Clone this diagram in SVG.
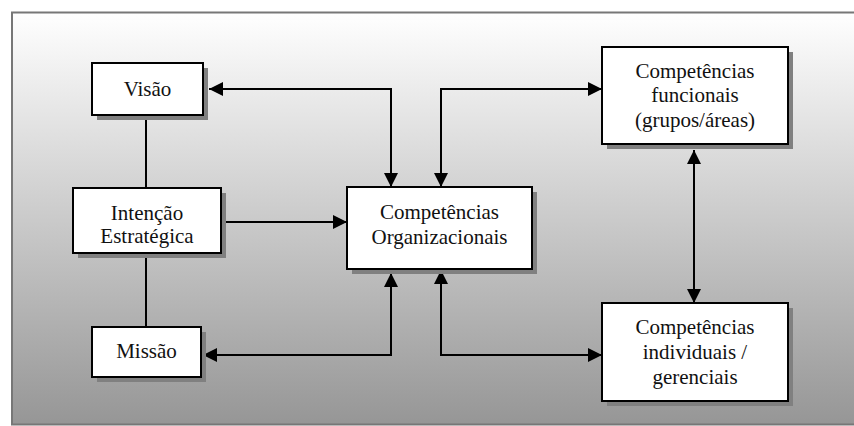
<svg xmlns="http://www.w3.org/2000/svg" width="854" height="426" viewBox="0 0 854 426">
<defs>
<linearGradient id="bg" x1="0" y1="0" x2="0" y2="1">
<stop offset="0" stop-color="#ffffff"/>
<stop offset="1" stop-color="#969696"/>
</linearGradient>
<marker id="ah" viewBox="0 0 14 14" refX="14" refY="7" markerWidth="14" markerHeight="14" markerUnits="userSpaceOnUse" orient="auto-start-reverse">
<path d="M0,0 L14,7 L0,14 Z" fill="#000"/>
</marker>
<style>
.sh{fill:#808080}
.bx{fill:#fff;stroke:#000;stroke-width:2}
.t{font-family:'Liberation Serif','Times New Roman',serif;font-size:21px;fill:#111;text-anchor:middle}
.c{fill:none;stroke:#000;stroke-width:2}
</style>
</defs>
<rect x="0" y="0" width="854" height="426" fill="#fff"/>
<rect x="12" y="12.5" width="850" height="412" fill="url(#bg)" stroke="#777" stroke-width="2"/>
<g id="connectors">
<line class="c" x1="146" y1="115" x2="146" y2="188"/>
<line class="c" x1="146" y1="253" x2="146" y2="327"/>
<polyline class="c" points="391,187 391,89 209,89" marker-start="url(#ah)" marker-end="url(#ah)"/>
<polyline class="c" points="441,187 441,89 602,89" marker-start="url(#ah)" marker-end="url(#ah)"/>
<line class="c" x1="221" y1="222" x2="347" y2="222" marker-end="url(#ah)"/>
<polyline class="c" points="391,273 391,355 203,355" marker-start="url(#ah)" marker-end="url(#ah)"/>
<polyline class="c" points="441,270 441,355 602,355" marker-start="url(#ah)" marker-end="url(#ah)"/>
<line class="c" x1="694" y1="150" x2="694" y2="303" marker-start="url(#ah)" marker-end="url(#ah)"/>
</g>
<g id="visao">
<rect class="sh" x="97" y="68" width="111" height="52"/>
<rect class="bx" x="92" y="63" width="111" height="52"/>
<text class="t" x="147.5" y="96">Visão</text>
</g>
<g id="intencao">
<rect class="sh" x="78" y="193" width="148" height="65"/>
<rect class="bx" x="73" y="188" width="148" height="65"/>
<text class="t" x="147" y="220">Intenção</text>
<text class="t" x="147" y="243">Estratégica</text>
</g>
<g id="missao">
<rect class="sh" x="97" y="332" width="109" height="50"/>
<rect class="bx" x="92" y="327" width="109" height="50"/>
<text class="t" x="146.5" y="358">Missão</text>
</g>
<g id="organizacionais">
<rect class="sh" x="352" y="192" width="185" height="82"/>
<rect class="bx" x="347" y="187" width="185" height="82"/>
<text class="t" x="439.5" y="219">Competências</text>
<text class="t" x="439.5" y="244">Organizacionais</text>
</g>
<g id="funcionais">
<rect class="sh" x="607" y="52" width="186" height="97"/>
<rect class="bx" x="602" y="47" width="186" height="97"/>
<text class="t" x="695" y="78">Competências</text>
<text class="t" x="695" y="102">funcionais</text>
<text class="t" x="695" y="127">(grupos/áreas)</text>
</g>
<g id="individuais">
<rect class="sh" x="607" y="308" width="186" height="98"/>
<rect class="bx" x="602" y="303" width="186" height="98"/>
<text class="t" x="695" y="334">Competências</text>
<text class="t" x="695" y="359">individuais /</text>
<text class="t" x="695" y="384">gerenciais</text>
</g>
</svg>
